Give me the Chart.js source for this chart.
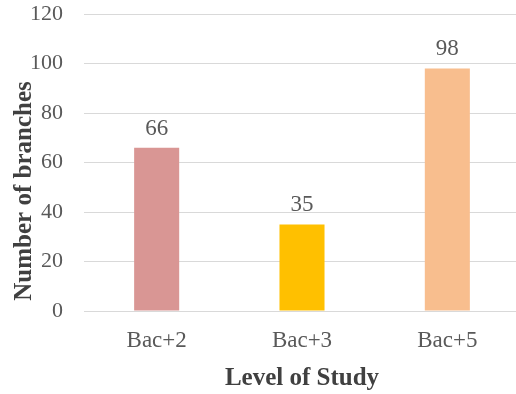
<!DOCTYPE html>
<html>
<head>
<meta charset="utf-8">
<script src="https://cdn.jsdelivr.net/npm/chart.js@4"></script>
<style>
  html, body { margin: 0; padding: 0; background: #fff; overflow: hidden; }
  #wrap { width: 516px; height: 394px; overflow: hidden; }
</style>
</head>
<body>
<div id="wrap"><canvas id="levelChart" width="520" height="394"></canvas></div>
<script>
// Number of branches per level of study
const levels = ["Bac+2", "Bac+3", "Bac+5"]
const branchCounts = [66, 35, 98]
const barColors = ["#D99694", "#FFC000", "#F8BE8E"]
const yTicks = [0, 20, 40, 60, 80, 100, 120]
const xTitle = "Level of Study"
const yTitle = "Number of branches"

const serif = "'Liberation Serif', 'Times New Roman', serif"
const textGray = "#595959"
const titleGray = "#404040"

// value labels above bars + the y title (Excel puts it a bit lower than centre)
const extras = {
  id: "extras",
  afterDatasetsDraw(chart) {
    const ctx = chart.ctx
    const meta = chart.getDatasetMeta(0)
    ctx.save()
    ctx.font = "23px " + serif
    ctx.fillStyle = textGray
    ctx.textAlign = "center"
    ctx.textBaseline = "alphabetic"
    meta.data.forEach((bar, i) => {
      ctx.fillText(String(branchCounts[i]), bar.x, bar.y - 13)
    })

    ctx.font = "bold 25px " + serif
    ctx.fillStyle = titleGray
    ctx.textBaseline = "middle"
    ctx.translate(25, 191)
    ctx.rotate(-Math.PI / 2)
    ctx.fillText(yTitle, 0, 0)
    ctx.restore()
  },
}

new Chart(document.getElementById("levelChart"), {
  type: "bar",
  data: {
    labels: levels,
    datasets: [
      {
        data: branchCounts,
        backgroundColor: barColors,
        borderWidth: 0,
        categoryPercentage: 1,
        barPercentage: 0.31,
      },
    ],
  },
  options: {
    responsive: false,
    animation: false,
    layout: { padding: { top: 14, left: 0, right: 0, bottom: 0 } },
    plugins: {
      legend: { display: false },
      tooltip: { enabled: false },
    },
    scales: {
      x: {
        grid: { display: false, drawTicks: false },
        border: { color: "#D9D9D9", width: 1 },
        ticks: {
          color: textGray,
          font: { family: serif, size: 23 },
          padding: 16,
        },
        title: {
          display: true,
          text: xTitle,
          color: titleGray,
          font: { family: serif, size: 25, weight: "bold" },
          padding: { top: 7, bottom: 0 },
        },
        afterFit(scale) {
          scale.height = 83
          scale.paddingLeft = 0
          scale.paddingRight = 0
        },
      },
      y: {
        min: 0,
        max: 120,
        afterBuildTicks(scale) { scale.ticks = yTicks.map(v => ({ value: v })) },
        grid: { color: "#D9D9D9", drawTicks: false },
        border: { display: false },
        ticks: {
          color: textGray,
          font: { family: serif, size: 22 },
          padding: 21,
        },
        afterFit(scale) {
          scale.width = 84
          scale.paddingTop = 0
          scale.paddingBottom = 0
        },
      },
    },
  },
  plugins: [extras],
})
</script>
</body>
</html>
